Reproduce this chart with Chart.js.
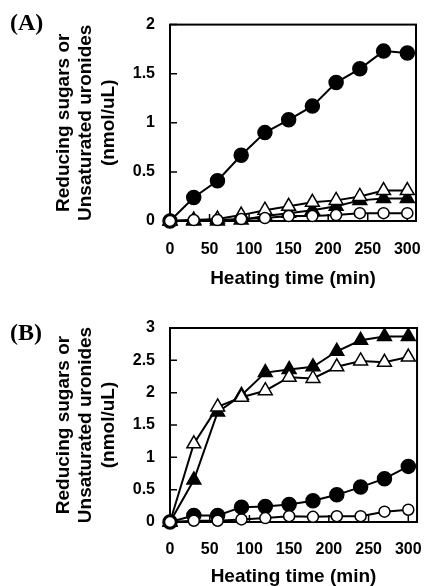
<!DOCTYPE html>
<html>
<head>
<meta charset="utf-8">
<script src="https://cdn.jsdelivr.net/npm/chart.js@4.4.1/dist/chart.umd.min.js"></script>
<style>
  body { margin: 0; background: #fff; }
  #wrap { position: relative; width: 440px; height: 586px; }
  canvas { position: absolute; left: 0; }
  .tag { position: absolute; font: bold 24px "Liberation Serif", serif; color: #000; line-height: 1; }
</style>
</head>
<body>
<div id="wrap">
  <canvas id="chart-a" width="440" height="293" style="top:0"></canvas>
  <canvas id="chart-b" width="440" height="293" style="top:293px"></canvas>
  <div class="tag" style="left:10px;top:10px">(A)</div>
  <div class="tag" style="left:10px;top:320px">(B)</div>
</div>
<script>
const heatingTimes = [0, 30, 60, 90, 120, 150, 180, 210, 240, 270, 300];
const xTickValues = [0, 50, 100, 150, 200, 250, 300];
const yTitleLines = ['Reducing sugars or', 'Unsaturated uronides', '(nmol/uL)'];
const xTitle = 'Heating time (min)';

// panel A
const aFilledCircle = [0, 0.24, 0.41, 0.67, 0.90, 1.03, 1.17, 1.41, 1.55, 1.73, 1.71];
const aOpenCircle = [0, 0.01, 0.01, 0.02, 0.03, 0.05, 0.05, 0.06, 0.08, 0.08, 0.08];
const aFilledTriangle = [0, 0, 0, 0.01, 0.05, 0.08, 0.11, 0.15, 0.21, 0.23, 0.23];
const aOpenTriangle = [0, 0.01, 0.02, 0.06, 0.11, 0.15, 0.19, 0.21, 0.25, 0.31, 0.31];

// panel B
const bFilledCircle = [0, 0.10, 0.10, 0.23, 0.24, 0.27, 0.33, 0.42, 0.54, 0.67, 0.86];
const bOpenCircle = [0, 0.02, 0.02, 0.04, 0.06, 0.09, 0.08, 0.09, 0.09, 0.16, 0.19];
const bFilledTriangle = [0, 0.65, 1.70, 1.96, 2.31, 2.36, 2.40, 2.64, 2.81, 2.87, 2.87];
const bOpenTriangle = [0, 1.21, 1.78, 1.93, 2.03, 2.24, 2.22, 2.40, 2.49, 2.47, 2.55];

const FONT = '"Liberation Sans", Arial, sans-serif';

function toPoints(values) {
  return heatingTimes.map((t, i) => ({ x: t, y: values[i] }));
}

function makeDataset(values, style, filled) {
  let radius = 8;
  if (style === 'circle') {
    radius = filled ? 7 : 5.5;
  }
  return {
    data: toPoints(values),
    borderColor: '#000',
    borderWidth: 2,
    pointStyle: style,
    pointRadius: radius,
    pointBorderWidth: 1.5,
    pointBackgroundColor: filled ? '#000' : '#fff',
    pointBorderColor: '#000',
    tension: 0,
    clip: false,
  };
}

// box around the plot and small inward tick marks
const frameAndTicks = {
  id: 'frameAndTicks',
  beforeDatasetsDraw(chart) {
    const { ctx, chartArea: a, scales } = chart;
    ctx.save();
    ctx.strokeStyle = '#000';
    ctx.lineWidth = 1.5;
    ctx.beginPath();
    scales.y.ticks.forEach((t) => {
      const py = scales.y.getPixelForValue(t.value);
      ctx.moveTo(a.left, py);
      ctx.lineTo(a.left + 7, py);
    });
    scales.x.ticks.forEach((t) => {
      const px = scales.x.getPixelForValue(t.value);
      ctx.moveTo(px, a.bottom);
      ctx.lineTo(px, a.bottom - 7);
    });
    ctx.stroke();
    ctx.lineWidth = 2;
    ctx.strokeRect(a.left, a.top, a.right - a.left, a.bottom - a.top);
    ctx.restore();
  },
};

function createPanel(canvasId, series, yMax, layout) {
  const datasets = [
    makeDataset(series[0], 'circle', false),
    makeDataset(series[1], 'triangle', false),
    makeDataset(series[2], 'triangle', true),
    makeDataset(series[3], 'circle', true),
  ];

  const scales = {
    x: {
      type: 'linear',
      min: 0,
      max: 311,
      grid: { display: false, drawTicks: false },
      border: { display: false },
      afterBuildTicks: (scale) => {
        scale.ticks = xTickValues.map((v) => ({ value: v }));
      },
      afterFit: (scale) => {
        scale.height = layout.xHeight;
      },
      ticks: {
        color: '#000',
        padding: layout.xTickPad,
        maxRotation: 0,
        font: { family: FONT, size: 16, weight: 'bold' },
      },
      title: {
        display: true,
        text: xTitle,
        color: '#000',
        padding: { top: 0, bottom: layout.xTitlePad },
        font: { family: FONT, size: 19, weight: 'bold', lineHeight: 1 },
      },
    },
    y: {
      min: 0,
      max: yMax,
      grid: { display: false, drawTicks: false },
      border: { display: false },
      afterFit: (scale) => {
        scale.width = 170;
      },
      ticks: {
        stepSize: 0.5,
        color: '#000',
        padding: 15,
        font: { family: FONT, size: 16, weight: 'bold' },
        callback: (value) => String(Math.round(value * 10) / 10),
      },
      title: {
        display: true,
        text: yTitleLines,
        color: '#000',
        padding: { top: 52, bottom: 0 },
        font: { family: FONT, size: 19, weight: 'bold', lineHeight: 1.2 },
      },
    },
  };

  const options = {
    responsive: false,
    animation: false,
    layout: { padding: { left: 0, right: 10, top: layout.top, bottom: 0 } },
    plugins: {
      legend: { display: false },
      tooltip: { enabled: false },
    },
    scales: scales,
  };

  return new Chart(document.getElementById(canvasId).getContext('2d'), {
    type: 'line',
    data: { datasets: datasets },
    options: options,
    plugins: [frameAndTicks],
  });
}

createPanel('chart-a', [aOpenCircle, aOpenTriangle, aFilledTriangle, aFilledCircle], 2,
  { top: 22, xHeight: 72, xTickPad: 19, xTitlePad: 5 });
createPanel('chart-b', [bOpenCircle, bOpenTriangle, bFilledTriangle, bFilledCircle], 3,
  { top: 35, xHeight: 64, xTickPad: 18, xTitlePad: 0 });
</script>
</body>
</html>
